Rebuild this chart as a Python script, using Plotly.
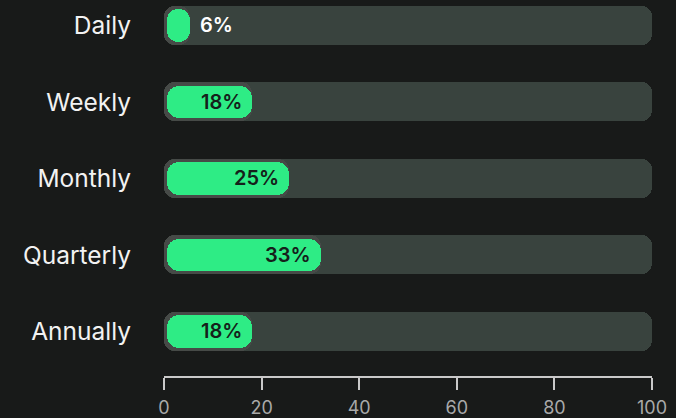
import plotly.graph_objects as go

categories = ["Daily", "Weekly", "Monthly", "Quarterly", "Annually"]
values = [5.4, 18.0, 25.6, 32.2, 18.0]
labels = ["6%", "18%", "25%", "33%", "18%"]
track_max = 100
x_ticks = [0, 20, 40, 60, 80, 100]

BG = "#181a19"
TRACK = "#39433e"
RIM = "#464a47"
GREEN = "#2eec85"

fig = go.Figure()
n = len(categories)


def pill(start, end, width, color, radius):
    fig.add_trace(go.Bar(
        y=categories, x=[e - s for s, e in zip(start, end)], base=start,
        orientation="h", width=width,
        marker=dict(color=color, cornerradius=radius, line=dict(width=0)),
        hoverinfo="skip", showlegend=False))


pill([0] * n, [track_max] * n, 0.51, TRACK, 10)
pill([0] * n, values, 0.51, RIM, 11)
pill([0.6] * n, values, 0.42, GREEN, 12)

annotations = []
for c, v, t in zip(categories, values, labels):
    inside = v > 10
    annotations.append(dict(
        x=v, y=c, xref="x", yref="y", text=t, showarrow=False,
        xanchor="right" if inside else "left",
        xshift=-8 if inside else 8,
        font=dict(family="Inter", size=20, color="#15201a" if inside else "#ffffff", weight=600),
    ))

fig.update_layout(
    width=676, height=418,
    margin=dict(l=164, r=24, t=0, b=42),
    paper_bgcolor=BG, plot_bgcolor=BG,
    barmode="overlay",
    bargap=0,
    annotations=annotations,
    font=dict(family="Inter"),
    xaxis=dict(
        range=[0, track_max], tickvals=x_ticks, showgrid=False, zeroline=False,
        showline=True, linecolor="#c9c9c9", linewidth=1.5,
        ticks="outside", ticklen=12, tickwidth=1.5, tickcolor="#c9c9c9",
        tickfont=dict(family="Inter", size=18, color="#a9a9a9"),
        ticklabelstandoff=3, fixedrange=True, automargin=False,
    ),
    yaxis=dict(
        type="category", categoryorder="array", categoryarray=categories,
        range=[4.582, -0.333], showgrid=False, zeroline=False, showline=False,
        tickfont=dict(family="Inter", size=24.5, color="#f2f2f2"),
        ticklabelstandoff=32, fixedrange=True, automargin=False,
    ),
)

fig.write_html("out.html")
